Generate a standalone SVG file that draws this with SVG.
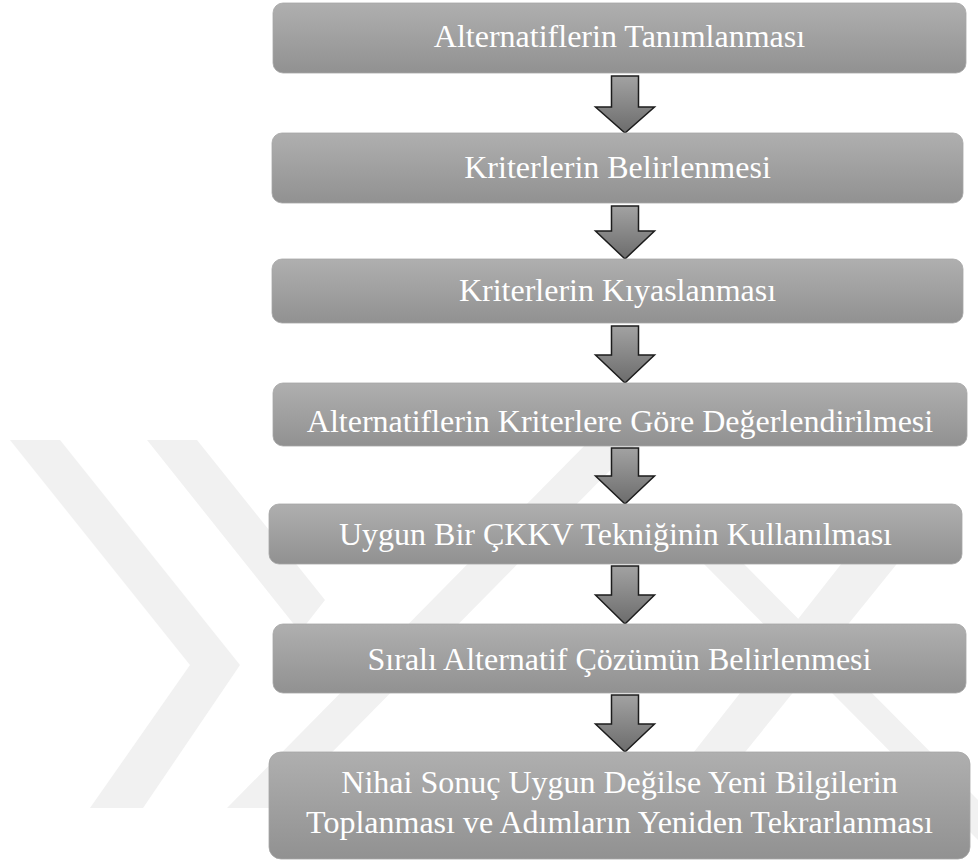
<svg xmlns="http://www.w3.org/2000/svg" width="978" height="862" viewBox="0 0 978 862">
<defs>
<linearGradient id="boxg" x1="0" y1="0" x2="0" y2="1">
<stop offset="0" stop-color="#afafaf"/>
<stop offset="1" stop-color="#919191"/>
</linearGradient>
<linearGradient id="arrg" x1="0" y1="0" x2="0" y2="1">
<stop offset="0" stop-color="#a2a2a2"/>
<stop offset="1" stop-color="#6c6c6c"/>
</linearGradient>
<style>
.box{fill:url(#boxg);stroke:#a6a6a6;stroke-width:0.8}
.lbl{font-family:"Liberation Serif","Times New Roman",serif;font-size:32px;fill:#ffffff;text-anchor:middle}
.arr{fill:url(#arrg);stroke:#1c1c1c;stroke-width:1.5;stroke-linejoin:miter}
.wm{fill:#f1f1f1}
</style>
</defs>
<rect width="978" height="862" fill="#ffffff"/>
<g id="watermark">
<polygon class="wm" points="10,440 60,440 240,665 143,808 90,808 190,665"/>
<polygon class="wm" points="147,440 197,440 325,600 300,632"/>
<polygon class="wm" points="227,808 277,808 640,440 590,440"/>
<polygon class="wm" points="700,560 740,560 978,800 978,840"/>
<polygon class="wm" points="650,808 700,808 900,560 860,540"/>
</g>
<g id="connectors">
<path class="arr" d="M611.5,76 H638.5 V107 H654.5 L625,133 L595.5,107 H611.5 Z"/>
<path class="arr" d="M611.5,206 H638.5 V231 H654.5 L625,259 L595.5,231 H611.5 Z"/>
<path class="arr" d="M611.5,326 H638.5 V355 H654.5 L625,383 L595.5,355 H611.5 Z"/>
<path class="arr" d="M611.5,448 H638.5 V476 H654.5 L625,504 L595.5,476 H611.5 Z"/>
<path class="arr" d="M611.5,566 H638.5 V595 H654.5 L625,624 L595.5,595 H611.5 Z"/>
<path class="arr" d="M611.5,695 H638.5 V724 H654.5 L625,752 L595.5,724 H611.5 Z"/>
</g>
<g id="node1"><rect class="box" x="273" y="3" width="693" height="70" rx="10"/><text class="lbl" x="619.5" y="47">Alternatiflerin Tanımlanması</text></g>
<g id="node2"><rect class="box" x="272" y="133" width="691" height="70" rx="10"/><text class="lbl" x="617.5" y="178">Kriterlerin Belirlenmesi</text></g>
<g id="node3"><rect class="box" x="272" y="259" width="691" height="64" rx="10"/><text class="lbl" x="617.5" y="301">Kriterlerin Kıyaslanması</text></g>
<g id="node4"><rect class="box" x="273" y="383" width="694" height="63" rx="10"/><text class="lbl" x="620" y="432">Alternatiflerin Kriterlere Göre Değerlendirilmesi</text></g>
<g id="node5"><rect class="box" x="269" y="504" width="693" height="60" rx="10"/><text class="lbl" x="615.5" y="545">Uygun Bir ÇKKV Tekniğinin Kullanılması</text></g>
<g id="node6"><rect class="box" x="273" y="624" width="693" height="69" rx="10"/><text class="lbl" x="619.5" y="670">Sıralı Alternatif Çözümün Belirlenmesi</text></g>
<g id="node7"><rect class="box" x="269" y="752" width="701" height="107" rx="12"/><text class="lbl" x="619.5" y="793">Nihai Sonuç Uygun Değilse Yeni Bilgilerin</text><text class="lbl" x="619.5" y="833">Toplanması ve Adımların Yeniden Tekrarlanması</text></g>
</svg>
